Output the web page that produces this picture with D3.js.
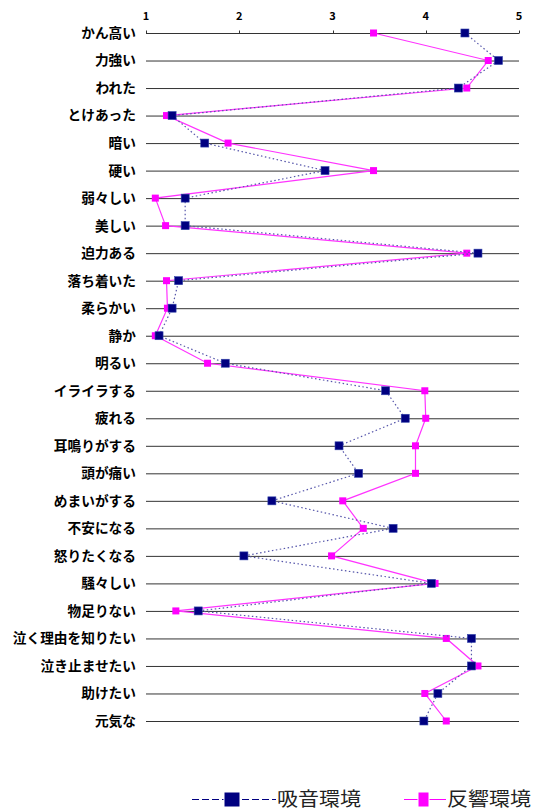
<!DOCTYPE html>
<html>
<head>
<meta charset="utf-8">
<script src="https://cdn.jsdelivr.net/npm/d3@7"></script>
<style>
  body { margin: 0; background: #fff; }
  svg { display: block; }
</style>
</head>
<body>
<svg id="chart" width="550" height="810"></svg>
<script>
// Category labels (top to bottom)
const categories = [
    'かん高い', '力強い', 'われた', 'とけあった', '暗い', '硬い', '弱々しい', '美しい',
    '迫力ある', '落ち着いた', '柔らかい', '静か', '明るい', 'イライラする', '疲れる',
    '耳鳴りがする', '頭が痛い', 'めまいがする', '不安になる', '怒りたくなる', '騒々しい',
    '物足りない', '泣く理由を知りたい', '泣き止ませたい', '助けたい', '元気な'
];

// 吸音環境 (absorbing)
const absorbValues = [
    4.42, 4.78, 4.35, 1.28, 1.63, 2.92, 1.42, 1.42, 4.56, 1.35, 1.28, 1.14, 1.85,
    3.57, 3.78, 3.07, 3.28, 2.35, 3.65, 2.05, 4.06, 1.56, 4.49, 4.49, 4.13, 3.98
];

// 反響環境 (reverberant)
const reverbValues = [
    3.44, 4.67, 4.44, 1.22, 1.88, 3.44, 1.10, 1.21, 4.44, 1.22, 1.23, 1.10, 1.66,
    3.99, 4.00, 3.89, 3.89, 3.11, 3.33, 2.99, 4.10, 1.32, 4.22, 4.56, 3.99, 4.22
];

const tickValues = [1, 2, 3, 4, 5];

const svg = d3.select('#chart');
const font = '"Noto Sans CJK JP", "Noto Sans", sans-serif';

const x = d3.scaleLinear().domain([1, 5]).range([146, 519]);
const y = d3.scalePoint().domain(categories).range([33, 721]);

// Row lines
svg.append('g')
    .selectAll('line')
    .data(categories)
    .enter()
    .append('line')
    .attr('x1', x(1))
    .attr('x2', x(5))
    .attr('y1', d => y(d) + 0.5)
    .attr('y2', d => y(d) + 0.5)
    .attr('stroke', '#333')
    .attr('stroke-width', 1);

// Top axis ticks and labels
const axis = svg.append('g').attr('transform', `translate(0,${y(categories[0]) + 0.5})`);
axis.selectAll('line')
    .data(tickValues)
    .enter()
    .append('line')
    .attr('x1', d => Math.round(x(d)) + 0.5)
    .attr('x2', d => Math.round(x(d)) + 0.5)
    .attr('y1', -3)
    .attr('y2', 0)
    .attr('stroke', '#333');
axis.selectAll('text')
    .data(tickValues)
    .enter()
    .append('text')
    .attr('x', d => x(d))
    .attr('y', -14)
    .attr('text-anchor', 'middle')
    .attr('font-family', font)
    .attr('font-size', '11px')
    .attr('font-weight', 'bold')
    .attr('fill', '#000')
    .text(d => d);

// Category labels
svg.append('g')
    .selectAll('text')
    .data(categories)
    .enter()
    .append('text')
    .attr('x', 136)
    .attr('y', d => y(d))
    .attr('dy', '0.36em')
    .attr('text-anchor', 'end')
    .attr('font-family', font)
    .attr('font-size', '13.7px')
    .attr('font-weight', 'bold')
    .attr('fill', '#000')
    .text(d => d);

const line = d3.line()
    .x(d => x(d.v))
    .y(d => y(d.c));

const reverbData = categories.map((c, i) => ({ c, v: reverbValues[i] }));
const absorbData = categories.map((c, i) => ({ c, v: absorbValues[i] }));

// 反響環境 series (drawn first, underneath)
svg.append('path')
    .datum(reverbData)
    .attr('d', line)
    .attr('fill', 'none')
    .attr('stroke', '#ff33ff')
    .attr('stroke-width', 1.2);
svg.append('g')
    .selectAll('rect')
    .data(reverbData)
    .enter()
    .append('rect')
    .attr('x', d => x(d.v) - 3.5)
    .attr('y', d => y(d.c) - 3.5)
    .attr('width', 7)
    .attr('height', 7)
    .attr('fill', '#ff00ff');

// 吸音環境 series
svg.append('path')
    .datum(absorbData)
    .attr('d', line)
    .attr('fill', 'none')
    .attr('stroke', '#5555aa')
    .attr('stroke-width', 1.2)
    .attr('stroke-dasharray', '1.5,2.5');
svg.append('g')
    .selectAll('rect')
    .data(absorbData)
    .enter()
    .append('rect')
    .attr('x', d => x(d.v) - 4)
    .attr('y', d => y(d.c) - 4)
    .attr('width', 8)
    .attr('height', 8)
    .attr('fill', '#000080')
    .attr('stroke', '#3344aa')
    .attr('stroke-width', 0.6);

// Legend
const legend = svg.append('g').attr('font-family', font).attr('font-size', '19px');
const ly = 799.5;

legend.append('line')
    .attr('x1', 192).attr('x2', 276)
    .attr('y1', ly).attr('y2', ly)
    .attr('stroke', '#000080')
    .attr('stroke-width', 1)
    .attr('stroke-dasharray', '7,3');
legend.append('rect')
    .attr('x', 224).attr('y', 792)
    .attr('width', 16).attr('height', 15)
    .attr('fill', '#000080')
    .attr('stroke', '#fff')
    .attr('stroke-width', 1);
legend.append('text')
    .attr('x', 277).attr('y', ly)
    .attr('dy', '0.36em')
    .attr('fill', '#222')
    .attr('textLength', 84)
    .attr('lengthAdjust', 'spacingAndGlyphs')
    .text('吸音環境');

legend.append('line')
    .attr('x1', 404).attr('x2', 446)
    .attr('y1', ly).attr('y2', ly)
    .attr('stroke', '#ff00ff')
    .attr('stroke-width', 1);
legend.append('rect')
    .attr('x', 418).attr('y', 792)
    .attr('width', 11).attr('height', 15)
    .attr('fill', '#ff00ff')
    .attr('stroke', '#fff')
    .attr('stroke-width', 1);
legend.append('text')
    .attr('x', 447).attr('y', ly)
    .attr('dy', '0.36em')
    .attr('fill', '#222')
    .attr('textLength', 84)
    .attr('lengthAdjust', 'spacingAndGlyphs')
    .text('反響環境');
</script>
</body>
</html>
